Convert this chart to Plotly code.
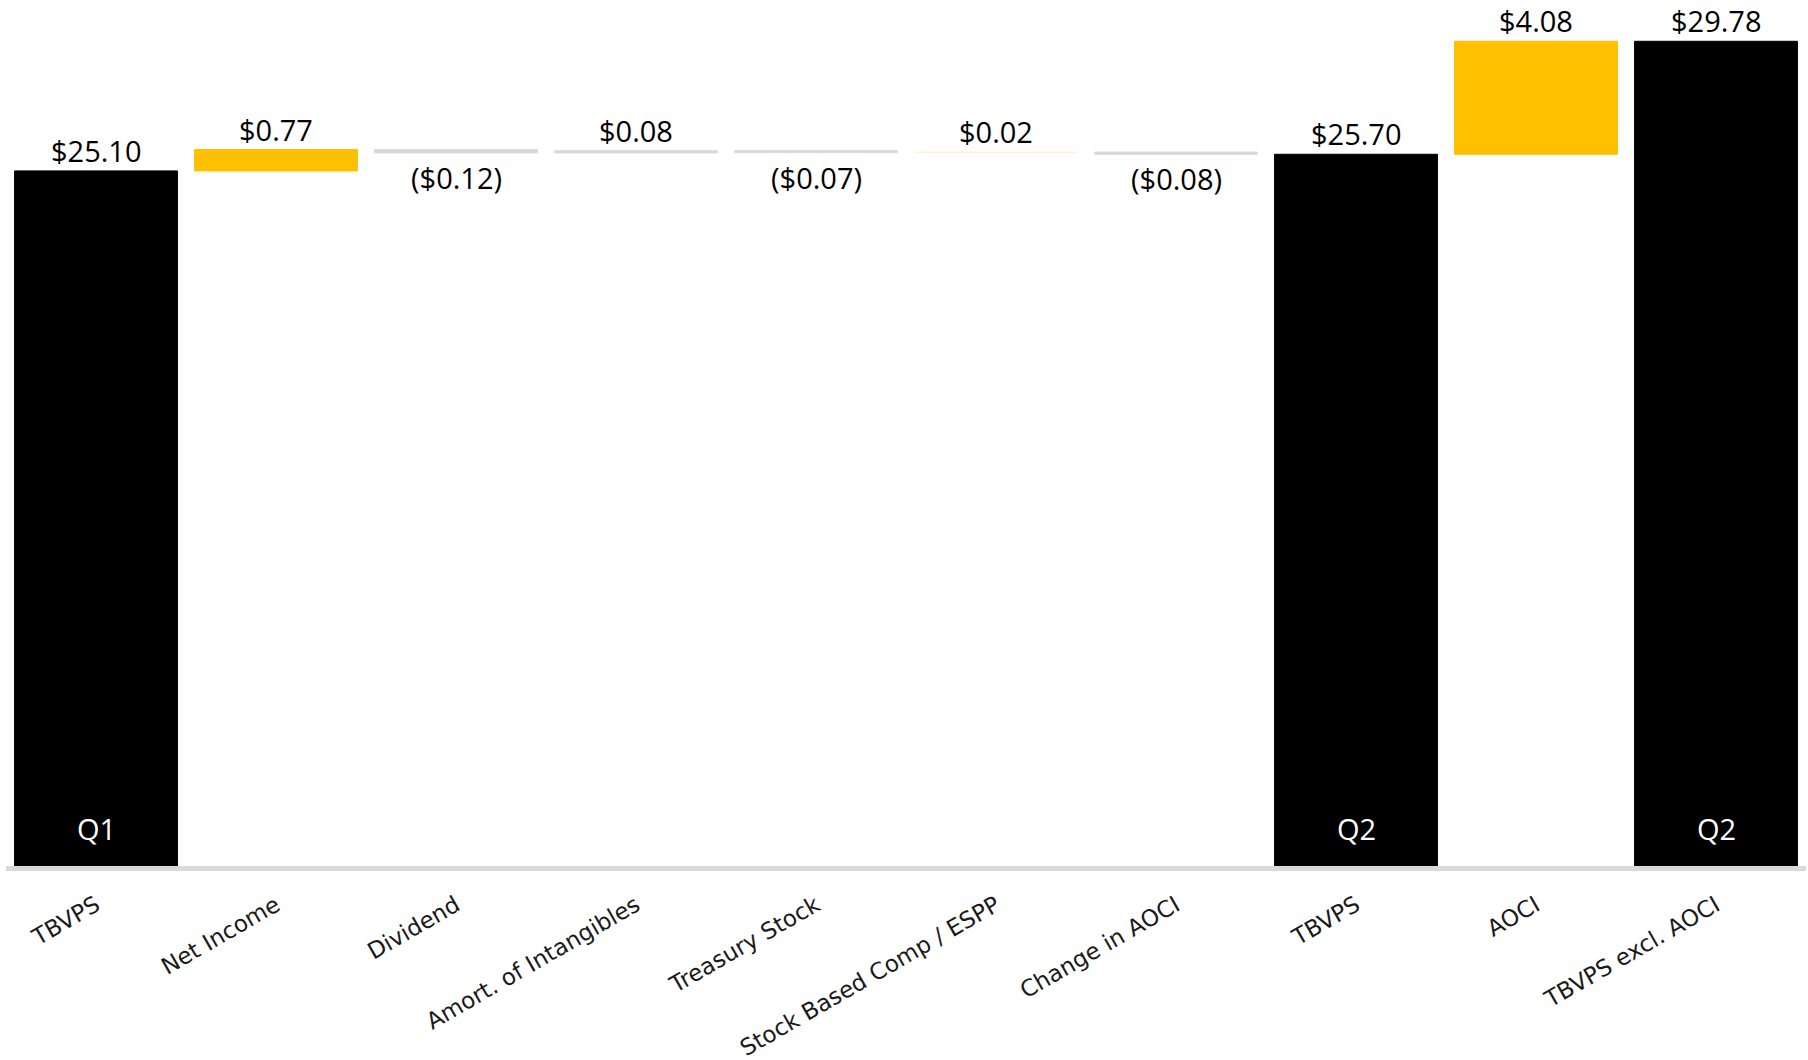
import plotly.graph_objects as go

# Tangible book value per share bridge, Q1 -> Q2
categories = [
    "TBVPS", "Net Income", "Dividend", "Amort. of Intangibles", "Treasury Stock",
    "Stock Based Comp / ESPP", "Change in AOCI", "TBVPS", "AOCI", "TBVPS excl. AOCI",
]
values = [25.10, 0.77, -0.12, 0.08, -0.07, 0.02, -0.08, 25.70, 4.08, 29.78]
kinds = ["total", "delta", "delta", "delta", "delta", "delta", "delta", "total", "delta", "total"]
bar_colors = ["#000000", "#FFC000", "#D9D9D9", "#D9D9D9", "#D9D9D9",
              "#FFF2CC", "#D9D9D9", "#000000", "#FFC000", "#000000"]
period_labels = ["Q1", "", "", "", "", "", "", "Q2", "", "Q2"]

# Running level for the floating bars
bases, heights = [], []
level = 0.0
for v, k in zip(values, kinds):
    if k == "total":
        bases.append(0.0)
        heights.append(v)
        level = v
    else:
        bases.append(level)
        heights.append(v)
        level += v


def money(v):
    return f"(${abs(v):.2f})" if v < 0 else f"${v:.2f}"


x = list(range(len(categories)))

fig = go.Figure()
fig.add_trace(go.Bar(
    x=x, y=heights, base=bases, width=0.905,
    marker=dict(color=bar_colors, line=dict(color=bar_colors, width=1)),
    hoverinfo="skip",
))

label_font = dict(family="Open Sans", size=29, color="#000000")
annotations = []
for i, (v, b) in enumerate(zip(values, bases)):
    top = max(b, b + v)
    bottom = min(b, b + v)
    if v >= 0:
        annotations.append(dict(x=i, y=top, text=money(v), showarrow=False,
                                xanchor="center", yanchor="bottom", yshift=-1,
                                font=label_font))
    else:
        annotations.append(dict(x=i, y=bottom, text=money(v), showarrow=False,
                                xanchor="center", yanchor="top", yshift=-3,
                                font=label_font))
    if period_labels[i]:
        annotations.append(dict(x=i, y=0, text=period_labels[i], showarrow=False,
                                xanchor="center", yanchor="bottom", yshift=16,
                                font=dict(family="Open Sans", size=29, color="#FFFFFF")))

fig.update_layout(
    width=1808, height=1060,
    margin=dict(l=6, r=2, t=10, b=194, autoexpand=False),
    paper_bgcolor="#FFFFFF", plot_bgcolor="#FFFFFF",
    showlegend=False,
    bargap=0.1,
    annotations=annotations,
    xaxis=dict(
        range=[-0.5, len(categories) - 0.5],
        tickmode="array", tickvals=x, ticktext=categories,
        tickangle=-30, ticks="", showgrid=False, zeroline=False,
        showline=True, linecolor="#D9D9D9", linewidth=5,
        tickfont=dict(family="DejaVu Sans", size=23, color="#1A1A1A"),
        ticklabelstandoff=12, automargin=False,
    ),
    yaxis=dict(range=[0, 30.91], visible=False, showgrid=False, zeroline=False,
               automargin=False),
)

fig.write_html("out.html")
